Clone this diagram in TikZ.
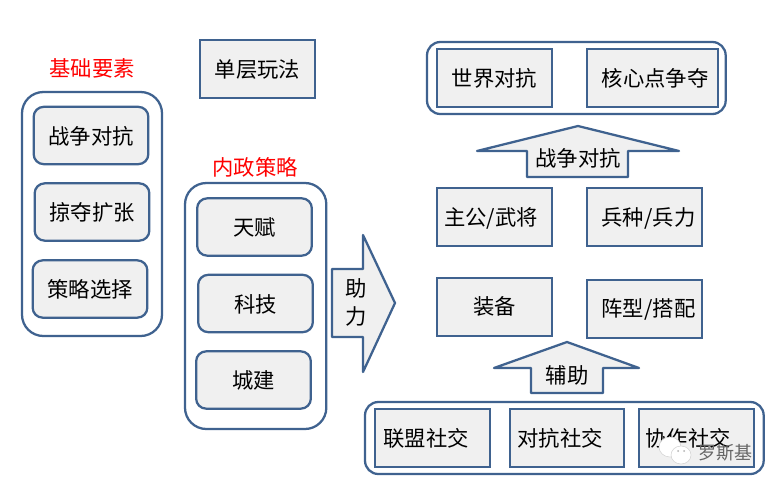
\documentclass[tikz,border=0pt]{standalone}
\usepackage{fontspec}
\setmainfont{Noto Sans CJK SC}
\usepackage{xcolor}
\usetikzlibrary{positioning}
\definecolor{edgeblue}{HTML}{3F628F}
\definecolor{boxfill}{HTML}{F0F0F0}

\begin{document}
\begin{tikzpicture}[
  x=0.75pt, y=-0.75pt,
  every node/.style={font=\fontsize{16pt}{21pt}\selectfont, text=black},
  outer/.style={draw=edgeblue, line width=1.7pt, rounded corners=16pt, fill=white,
    anchor=north west, outer sep=0pt},
  wide/.style={outer, rounded corners=10pt},
  item/.style={draw=edgeblue, line width=1.7pt, rounded corners=7.5pt, fill=boxfill,
    minimum width=86pt, minimum height=43pt, inner sep=0pt, text depth=0.5pt},
  plain/.style={draw=edgeblue, line width=1.7pt, fill=boxfill,
    minimum width=86pt, minimum height=43pt, inner sep=0pt, text depth=0.5pt},
  heading/.style={text=red},
  bigarrow/.style={draw=edgeblue, line width=1.7pt, fill=boxfill, line join=round},
  bubble/.style={fill=white, draw=gray!35, line width=0.4pt}
]
\useasboundingbox (0,0) rectangle (778,486);

% left column
\node[heading] (basetitle) at (92,68) {基础要素};
\node[outer, minimum width=105pt, minimum height=183pt] (baseouter) at (22,92) {};
\node[item] (war) at (91,135.5) {战争对抗};
\node[item] (loot) at (92,212) {掠夺扩张};
\node[item] (choice) at (90,289) {策略选择};

\node[plain] (single) at (257.5,69) {单层玩法};

% middle column
\node[heading] (civtitle) at (255,167) {内政策略};
\node[outer, minimum width=106pt, minimum height=184.5pt] (civouter) at (185,183) {};
\node[item] (talent) at (254.5,227) {天赋};
\node[item] (tech) at (255.5,303.5) {科技};
\node[item] (build) at (253.5,380) {城建};

% right block
\node[wide, minimum width=224pt, minimum height=54pt] (topouter) at (427,42) {};
\node[plain] (world) at (494.5,78) {世界对抗};
\node[plain, minimum width=98pt] (core) at (652.5,78) {\hspace*{4pt}核心点争夺};
\node[plain] (hero) at (494.5,217) {主公/武将\hspace*{5pt}};
\node[plain] (troop) at (644.5,217) {\hspace*{6pt}兵种/兵力};
\node[plain, text depth=2.5pt] (gear) at (494.5,307) {装备};
\node[plain, text depth=2.5pt] (form) at (644.5,309) {\hspace*{6pt}阵型/搭配};
\node[wide, minimum width=299pt, minimum height=54pt] (botouter) at (365,402) {};
\node[plain] (ally) at (432.5,438) {联盟社交\hspace*{9.75pt}};
\node[plain] (fight) at (567,438) {对抗社交\hspace*{10.5pt}};
\node[plain] (coop) at (696.5,438) {协作社交\hspace*{12.75pt}};

% block arrows
\draw[bigarrow] (332,269) -- (363,269) -- (363,235) -- (395,303) -- (363,372) -- (363,337) -- (332,337) -- cycle;
\node[align=center] (helpa) at (356,302) {助\\力};
\draw[bigarrow] (527,177) -- (527,151) -- (477,151) -- (578,126) -- (679,151) -- (628,151) -- (628,177) -- cycle;
\node (warup) at (578,158) {战争对抗};
\draw[bigarrow] (531,393) -- (531,368) -- (494,368) -- (567,342) -- (639,368) -- (603,368) -- (603,393) -- cycle;
\node (aidup) at (567,375) {辅助};

% mark in the corner
\draw[bubble] (670,447) ellipse (11 and 10);
\draw[bubble] (681,455) ellipse (10 and 9);
\fill[gray!60] (678,451) circle (1) (684,451) circle (1);
\node[text=gray!80!black, font=\fontsize{13.5pt}{15pt}\selectfont] (mark) at (725.5,453) {罗斯基};
\end{tikzpicture}
\end{document}
